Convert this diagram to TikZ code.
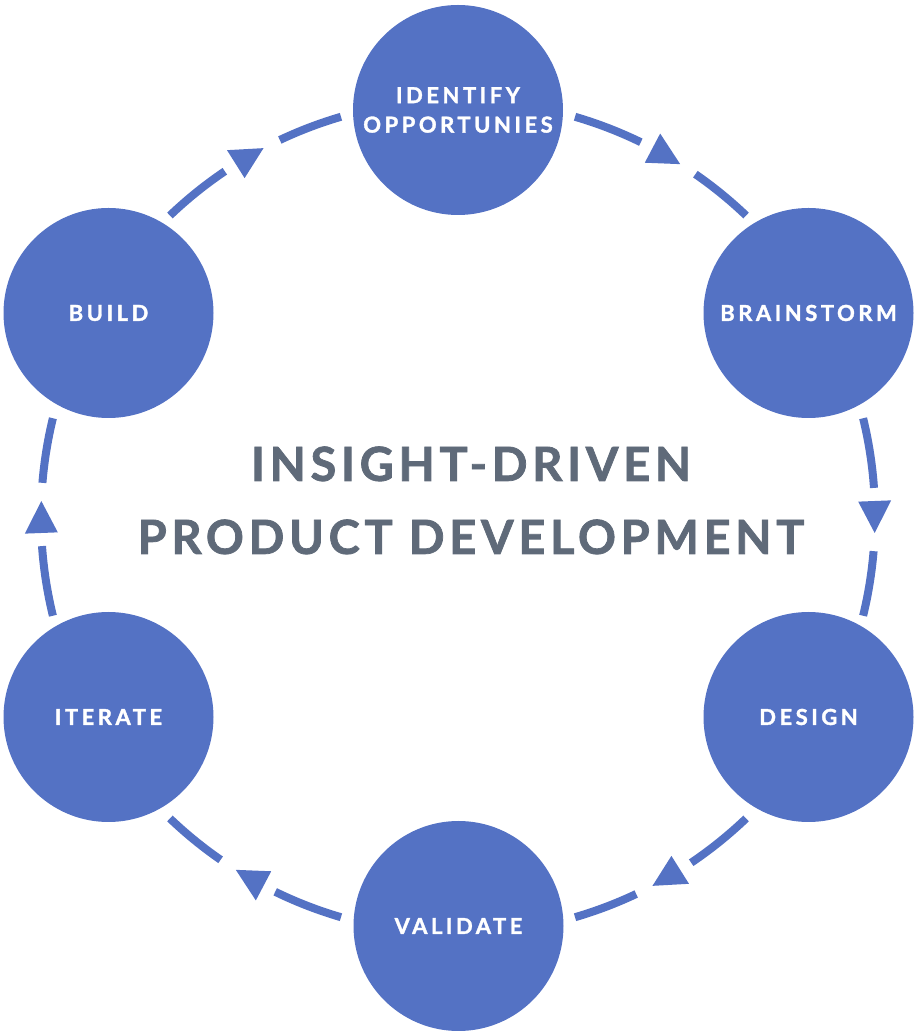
\documentclass[tikz,border=0pt]{standalone}
\usepackage{fontspec}
\usetikzlibrary{calc}
\newfontfamily\stagefont{Lato}[LetterSpace=16, BoldFeatures={FakeBold=1.6}]
\newfontfamily\headfont{Lato}[LetterSpace=10, BoldFeatures={FakeBold=1.6}]
\definecolor{cycleblue}{HTML}{5472C4}
\definecolor{headgray}{HTML}{5F6A79}

\begin{document}
\begin{tikzpicture}[x=1pt, y=1pt,
  stage/.style={circle, fill=cycleblue, minimum size=210pt, inner sep=0pt,
    text=white, align=center, font=\stagefont\bfseries\fontsize{22}{29.5}\selectfont},
  flow/.style={draw=cycleblue, line width=8pt},
  flowtip/.style={fill=cycleblue},
  headline/.style={text=headgray, align=center, font=\headfont\bfseries\fontsize{47}{73}\selectfont}]

\useasboundingbox (0,0) rectangle (919,1034);
\coordinate (Cx) at (458,517);

\node[stage] (Identx) at (458,924) {IDENTIFY\\OPPORTUNIES};
\node[stage] (Brainx) at (808.5,721) {BRAINSTORM};
\node[stage] (Designx) at (808.5,317) {DESIGN};
\node[stage] (Validx) at (458.5,108) {VALIDATE};
\node[stage] (Iterx) at (108.5,317) {ITERATE};
\node[stage] (Buildx) at (108.5,721) {BUILD};

\node[headline] (Titlex) at (471,533.6) {INSIGHT-DRIVEN\\PRODUCT DEVELOPMENT};

\draw[flow] (Cx) ++(73.7:417) arc[start angle=73.7, end angle=64, radius=417];
\fill[flowtip] ($(Cx)+(62.2:433.5)$) -- ($(Cx)+(57.8:417)$) -- ($(Cx)+(62.2:400.5)$) -- cycle;
\draw[flow] (Cx) ++(55.3:417) arc[start angle=55.3, end angle=46.3, radius=417];

\draw[flow] (Cx) ++(13.7:417) arc[start angle=13.7, end angle=4, radius=417];
\fill[flowtip] ($(Cx)+(2.2:433.5)$) -- ($(Cx)+(-2.2:417)$) -- ($(Cx)+(2.2:400.5)$) -- cycle;
\draw[flow] (Cx) ++(-4.7:417) arc[start angle=-4.7, end angle=-13.7, radius=417];

\draw[flow] (Cx) ++(-46.3:417) arc[start angle=-46.3, end angle=-56, radius=417];
\fill[flowtip] ($(Cx)+(-57.8:433.5)$) -- ($(Cx)+(-62.2:417)$) -- ($(Cx)+(-57.8:400.5)$) -- cycle;
\draw[flow] (Cx) ++(-64.7:417) arc[start angle=-64.7, end angle=-73.7, radius=417];

\draw[flow] (Cx) ++(-106.3:417) arc[start angle=-106.3, end angle=-116, radius=417];
\fill[flowtip] ($(Cx)+(-117.8:433.5)$) -- ($(Cx)+(-122.2:417)$) -- ($(Cx)+(-117.8:400.5)$) -- cycle;
\draw[flow] (Cx) ++(-124.7:417) arc[start angle=-124.7, end angle=-133.7, radius=417];

\draw[flow] (Cx) ++(-166.3:417) arc[start angle=-166.3, end angle=-176, radius=417];
\fill[flowtip] ($(Cx)+(-177.8:433.5)$) -- ($(Cx)+(-182.2:417)$) -- ($(Cx)+(-177.8:400.5)$) -- cycle;
\draw[flow] (Cx) ++(-184.7:417) arc[start angle=-184.7, end angle=-193.7, radius=417];

\draw[flow] (Cx) ++(-226.3:417) arc[start angle=-226.3, end angle=-236, radius=417];
\fill[flowtip] ($(Cx)+(-237.8:433.5)$) -- ($(Cx)+(-242.2:417)$) -- ($(Cx)+(-237.8:400.5)$) -- cycle;
\draw[flow] (Cx) ++(-244.7:417) arc[start angle=-244.7, end angle=-253.7, radius=417];

\end{tikzpicture}
\end{document}
